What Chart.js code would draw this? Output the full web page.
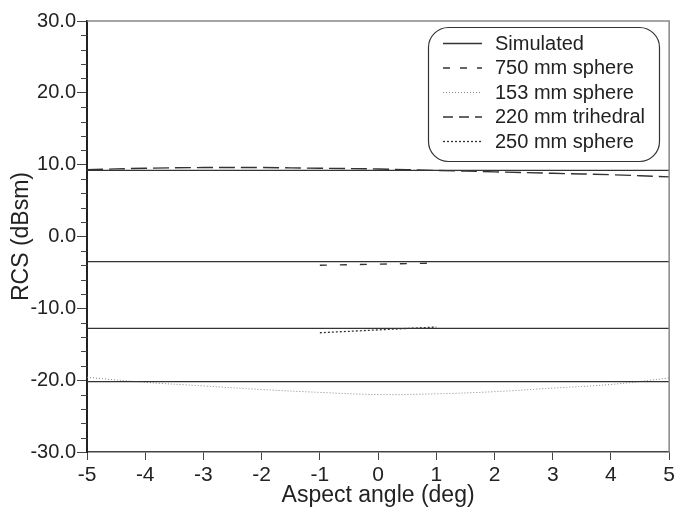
<!DOCTYPE html>
<html>
<head>
<meta charset="utf-8">
<script src="https://cdn.jsdelivr.net/npm/chart.js@4"></script>
<style>
  html, body { margin: 0; padding: 0; background: #fff; }
  #wrap { width: 678px; height: 511px; }
</style>
</head>
<body>
<div id="wrap"><canvas id="myChart" width="678" height="511"></canvas></div>
<script>
const FONT = "'Liberation Sans', Arial, sans-serif"

// data
const angles = [-5, -4, -3, -2, -1, 0, 1, 2, 3, 4, 5]
const simulatedLevels = [9.2, -3.5, -12.8, -20.2]
const trihedral220 = [9.3, 9.5, 9.6, 9.6, 9.5, 9.4, 9.2, 9.0, 8.8, 8.6, 8.3]
const sphere153 = [-19.6, -20.3, -20.8, -21.3, -21.7, -22.0, -21.9, -21.6, -21.1, -20.6, -19.7]
const shortAngles = [-1, 0, 1]
const sphere750 = [-4.0, -3.85, -3.7]
const sphere250 = [-13.4, -13.0, -12.6]
const yTicks = [-30, -20, -10, 0, 10, 20, 30]
const xTicks = [-5, -4, -3, -2, -1, 0, 1, 2, 3, 4, 5]

const toPts = (xs, ys) => xs.map((x, i) => ({x: x, y: ys[i]}))

const datasets = []
simulatedLevels.forEach((lvl, i) => {
    datasets.push({
        label: "Simulated",
        inLegend: i === 0,
        data: [{x: -5, y: lvl}, {x: 5, y: lvl}],
        borderColor: "#333",
        borderWidth: 1.3,
    })
})
datasets.push({
    label: "750 mm sphere", inLegend: true,
    data: toPts(shortAngles, sphere750),
    borderColor: "#333", borderWidth: 1.4, borderDash: [7, 13],
})
datasets.push({
    label: "153 mm sphere", inLegend: true,
    data: toPts(angles, sphere153),
    borderColor: "#888", borderWidth: 1, borderDash: [1, 2], tension: 0.4,
})
datasets.push({
    label: "220 mm trihedral", inLegend: true,
    data: toPts(angles, trihedral220),
    borderColor: "#333", borderWidth: 1.4, borderDash: [16, 6], tension: 0.4,
})
datasets.push({
    label: "250 mm sphere", inLegend: true,
    data: toPts(shortAngles, sphere250),
    borderColor: "#333", borderWidth: 1.3, borderDash: [2, 2],
})

///MINOR TICKS, FRAME AND ROUNDED LEGEND
const extras = {
    id: "extras",
    afterDraw(chart) {
        const ctx = chart.ctx
        const ys = chart.scales.y
        const area = chart.chartArea
        ctx.save()
        // top and right frame
        ctx.strokeStyle = "#888"
        ctx.lineWidth = 1.5
        ctx.beginPath()
        ctx.moveTo(area.left, area.top)
        ctx.lineTo(area.right, area.top)
        ctx.lineTo(area.right, area.bottom)
        ctx.stroke()
        // minor y ticks every 2
        ctx.strokeStyle = "#444"
        ctx.lineWidth = 1
        ctx.beginPath()
        for (let v = -30; v <= 30; v += 2) {
            if (v % 10 === 0) continue
            const py = Math.round(ys.getPixelForValue(v)) + 0.5
            ctx.moveTo(area.left - 6, py)
            ctx.lineTo(area.left, py)
        }
        ctx.stroke()

        // legend box
        const bx = 428, by = 27, bw = 231, bh = 134, r = 20
        ctx.fillStyle = "#fff"
        ctx.strokeStyle = "#333"
        ctx.lineWidth = 1.2
        ctx.beginPath()
        ctx.roundRect(bx + 0.5, by + 0.5, bw, bh, r)
        ctx.fill()
        ctx.stroke()
        ctx.font = "20px " + FONT
        ctx.textBaseline = "middle"
        ctx.fillStyle = "#222"
        const items = chart.data.datasets.filter(d => d.inLegend)
        items.forEach((d, i) => {
            const cy = by + 16 + i * 24.5
            ctx.strokeStyle = d.borderColor
            ctx.lineWidth = d.borderWidth
            ctx.setLineDash(d.borderDash ? d.borderDash.map(v => Math.min(v, 10)) : [])
            ctx.beginPath()
            ctx.moveTo(bx + 15, cy + 0.5)
            ctx.lineTo(bx + 54, cy + 0.5)
            ctx.stroke()
            ctx.setLineDash([])
            ctx.fillText(d.label, bx + 67, cy + 1)
        })
        ctx.restore()
    }
}

const config = {
    type: "line",
    data: { datasets: datasets },
    options: {
        responsive: false,
        animation: false,
        layout: { padding: { top: 21, right: 3, left: 0, bottom: 0 } },
        elements: { point: { radius: 0 } },
        plugins: { legend: { display: false }, tooltip: { enabled: false } },
        scales: {
            x: {
                type: "linear",
                min: -5, max: 5,
                afterBuildTicks: (s) => { s.ticks = xTicks.map(v => ({value: v})) },
                afterFit: (s) => { s.height = 59 },
                border: { color: "#444", width: 1.5 },
                grid: { drawOnChartArea: false, tickLength: 8, color: "#444" },
                ticks: { color: "#222", font: { family: FONT, size: 21 }, padding: 3 },
                title: {
                    display: true, text: "Aspect angle (deg)", color: "#222",
                    font: { family: FONT, size: 23 }, padding: { top: 0, bottom: 2 }
                }
            },
            y: {
                min: -30, max: 30,
                afterBuildTicks: (s) => { s.ticks = yTicks.map(v => ({value: v})) },
                afterFit: (s) => { s.width = 87 },
                border: { color: "#222", width: 2 },
                grid: { drawOnChartArea: false, tickLength: 10, color: "#444" },
                ticks: {
                    color: "#222", font: { family: FONT, size: 20 }, padding: 1,
                    callback: (v) => v.toFixed(1)
                },
                title: {
                    display: true, text: "RCS (dBsm)", color: "#222",
                    font: { family: FONT, size: 23 }, padding: { top: 8, bottom: 0 }
                }
            }
        }
    },
    plugins: [extras]
}

new Chart(document.getElementById("myChart"), config)
</script>
</body>
</html>
